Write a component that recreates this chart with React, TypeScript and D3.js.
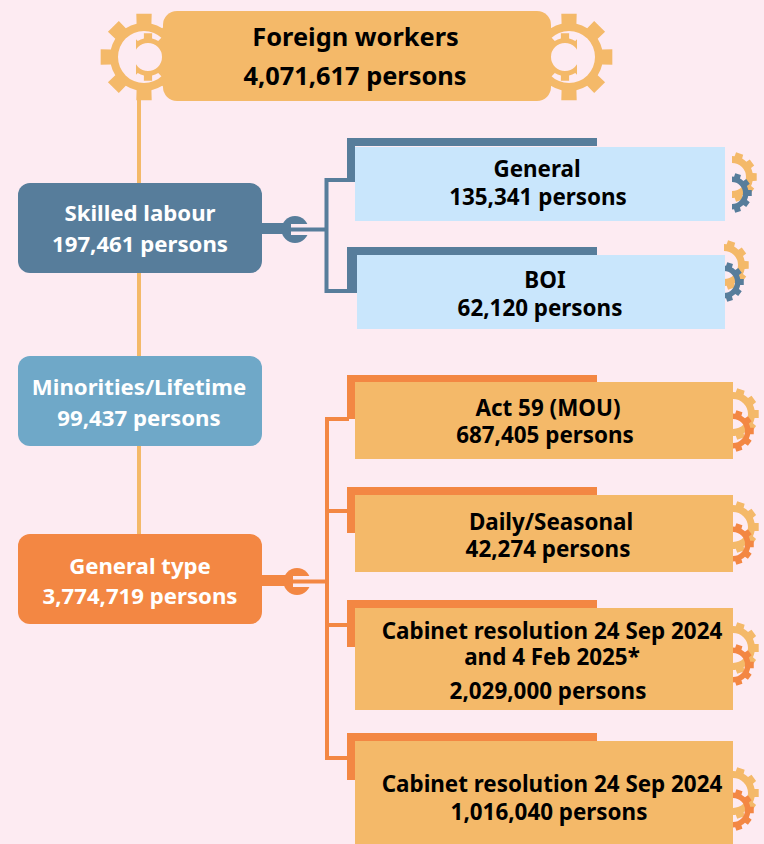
import React from 'react';
import * as d3 from 'd3';

const rootLabels = ['Foreign workers'];
const rootValues = [4071617];
const groupLabels = ['Skilled labour', 'Minorities/Lifetime', 'General type'];
const groupValues = [197461, 99437, 3774719];
const skilledLabels = ['General', 'BOI'];
const skilledValues = [135341, 62120];
const generalLabels = [
  ['Act 59 (MOU)'],
  ['Daily/Seasonal'],
  ['Cabinet resolution 24 Sep 2024', 'and 4 Feb 2025*'],
  ['Cabinet resolution 24 Sep 2024'],
];
const generalValues = [687405, 42274, 2029000, 1016040];

const SAND = '#f4b969';
const STEEL = '#577d9b';
const SKY = '#6fa8c8';
const ORANGE = '#f38743';
const PALE = '#c9e6fc';
const BG = '#fdebf2';
const FONT = '"Noto Sans", sans-serif';

const persons = (v: number) => `${d3.format(',')(v)} persons`;

// ring with teeth, the hole is cut out with evenodd
const gearPath = (cx: number, cy: number, rOut: number, rRoot: number, rHole: number, teeth: number, fill: number) => {
  const p = d3.path();
  const step = (2 * Math.PI) / teeth;
  const half = (step * fill) / 2;
  const pt = (r: number, a: number): [number, number] => [cx + r * Math.cos(a), cy + r * Math.sin(a)];
  d3.range(teeth).forEach((i) => {
    const a = i * step;
    const [x0, y0] = pt(rRoot, a - half);
    if (i === 0) p.moveTo(x0, y0);
    else p.arc(cx, cy, rRoot, a - step + half, a - half);
    p.lineTo(...pt(rOut, a - half * 0.8));
    p.lineTo(...pt(rOut, a + half * 0.8));
    p.lineTo(...pt(rRoot, a + half));
  });
  p.arc(cx, cy, rRoot, (teeth - 1) * step + half, 2 * Math.PI - half);
  p.closePath();
  p.moveTo(cx + rHole, cy);
  p.arc(cx, cy, rHole, 0, 2 * Math.PI);
  p.closePath();
  return p.toString();
};

const Box = ({ x, y, w, h, r = 0, fill, lines, size, color, xText, yText }: any) => (
  <g>
    <rect x={x} y={y} width={w} height={h} rx={r} fill={fill} />
    {lines.map((t: string, i: number) => (
      <text
        key={t + i}
        x={xText[i]}
        y={yText[i]}
        textAnchor="middle"
        fontFamily={FONT}
        fontWeight={700}
        fontSize={size}
        fill={color}
      >
        {t}
      </text>
    ))}
  </g>
);

// offset tab peeking out behind a detail box
const Tab = ({ y, bottom, right, color }: any) => (
  <path d={`M347 ${y}H597V${y + 8}H${right}V${bottom}H347Z`} fill={color} />
);

const Wrench = ({ x0, y, head, hy, x1, color }: any) => {
  const arc = d3.arc();
  const ring = arc({ innerRadius: 0, outerRadius: 13.5, startAngle: 0, endAngle: 2 * Math.PI }) as string;
  return (
    <g>
      <rect x={x0} y={y} width={head - x0} height={11} fill={color} />
      <path d={ring} transform={`translate(${head},${hy})`} fill={color} />
      <rect x={head - 4} y={hy - 5.5} width={20} height={11} fill={BG} />
      <rect x={head - 4} y={hy - 2} width={x1 - head + 4} height={4} fill={color} />
    </g>
  );
};

const SideGears = ({ id, x, yTop, yLow, top, low, rTop = 26, rLow = 21 }: any) => (
  <g>
    <clipPath id={id}>
      <rect x={x} y={yTop - 40} width={60} height={120} />
    </clipPath>
    <g clipPath={`url(#${id})`}>
      <path d={gearPath(x, yTop, rTop, rTop - 4, rTop - 11, 10, 0.6)} fill={top} fillRule="evenodd" />
      <path d={gearPath(x, yLow, rLow, rLow - 3.5, rLow - 9, 10, 0.6)} fill={low} fillRule="evenodd" />
    </g>
  </g>
);

const BigGear = ({ cx, small, clipX, clipW, id }: any) => (
  <g>
    <clipPath id={id}>
      <rect x={clipX} y={20} width={clipW} height={76} />
    </clipPath>
    <path d={gearPath(cx, 57, 44, 34, 26, 8, 0.56)} fill={SAND} fillRule="evenodd" />
    <g clipPath={`url(#${id})`}>
      <path d={gearPath(small, 57, 24, 19, 14, 8, 0.55)} fill={SAND} fillRule="evenodd" />
    </g>
  </g>
);

const skilledLayout = [
  { y: 147, h: 74, x: 355, w: 370, tab: 138, tabBottom: 182, gy: [177, 193], gx: 732, tx: [537, 538], text: [177, 205] },
  { y: 255, h: 74, x: 357, w: 368, tab: 247, tabBottom: 293, gy: [265, 282], gx: 724, tx: [545, 540], text: [288, 316] },
];
const generalLayout = [
  { y: 382, h: 77, tab: 375, tabBottom: 419, gy: [414, 431], tx: [548, 545], text: [416, 443] },
  { y: 495, h: 77, tab: 487, tabBottom: 533, gy: [527, 544], tx: [551, 548], text: [530, 557] },
  { y: 608, h: 102, tab: 600, tabBottom: 647, gy: [648, 665], tx: [552, 552, 548], text: [639, 665, 699] },
  { y: 741, h: 103, tab: 733, tabBottom: 780, gy: [793, 810], tx: [552, 549], text: [792, 820] },
];
const stubY = [419, 511, 625, 758];

export default function App() {
  return (
    <svg width={764} height={844} viewBox="0 0 764 844" style={{ position: 'absolute', left: 0, top: 0, display: 'block' }}>
      <rect width={764} height={844} fill={BG} />

      <rect x={137} y={95} width={4} height={445} fill={SAND} />
      <BigGear id="gl" cx={144} small={148} clipX={136} clipW={30} />
      <BigGear id="gr" cx={569} small={565} clipX={547} clipW={30} />
      <Box x={163} y={11} w={388} h={90} r={14} fill={SAND} lines={[rootLabels[0], persons(rootValues[0])]} size={25.4} color="#000" xText={[355.5, 355]} yText={[46, 85]} />

      {groupLabels.map((label, i) => (
        <Box
          key={label}
          x={18}
          y={[183, 356, 534][i]}
          w={244}
          h={90}
          r={12}
          fill={[STEEL, SKY, ORANGE][i]}
          lines={[label, persons(groupValues[i])]}
          size={22.2}
          color="#fff"
          xText={[[140, 140], [139, 139], [140, 140]][i]}
          yText={[[221, 252], [395, 426], [574, 604]][i]}
        />
      ))}

      <Wrench x0={262} y={223} head={295} hy={229.5} x1={327} color={STEEL} />
      <path d="M347 180H326.5V291H347" fill="none" stroke={STEEL} strokeWidth={4} />
      {skilledLabels.map((label, i) => {
        const l = skilledLayout[i];
        return (
          <g key={label}>
            <Tab y={l.tab} bottom={l.tabBottom} right={l.x} color={STEEL} />
            <SideGears id={`s${i}`} x={l.gx} yTop={l.gy[0]} yLow={l.gy[1]} top={SAND} low={STEEL} rTop={25} rLow={20} />
            <Box x={l.x} y={l.y} w={l.w} h={l.h} fill={PALE} lines={[label, persons(skilledValues[i])]} size={22.4} color="#000" xText={l.tx} yText={l.text} />
          </g>
        );
      })}

      <Wrench x0={262} y={575} head={297} hy={581.5} x1={327} color={ORANGE} />
      <rect x={325} y={417} width={4} height={343} fill={ORANGE} />
      {stubY.map((y) => (
        <rect key={y} x={325} y={y - 2} width={24} height={4} fill={ORANGE} />
      ))}
      {generalLabels.map((lines, i) => {
        const l = generalLayout[i];
        return (
          <g key={lines.join()}>
            <Tab y={l.tab} bottom={l.tabBottom} right={355} color={ORANGE} />
            <SideGears id={`o${i}`} x={733} yTop={l.gy[0]} yLow={l.gy[1]} top={SAND} low={ORANGE} />
            <Box x={355} y={l.y} w={378} h={l.h} fill={SAND} lines={[...lines, persons(generalValues[i])]} size={22.4} color="#000" xText={l.tx} yText={l.text} />
          </g>
        );
      })}
    </svg>
  );
}
